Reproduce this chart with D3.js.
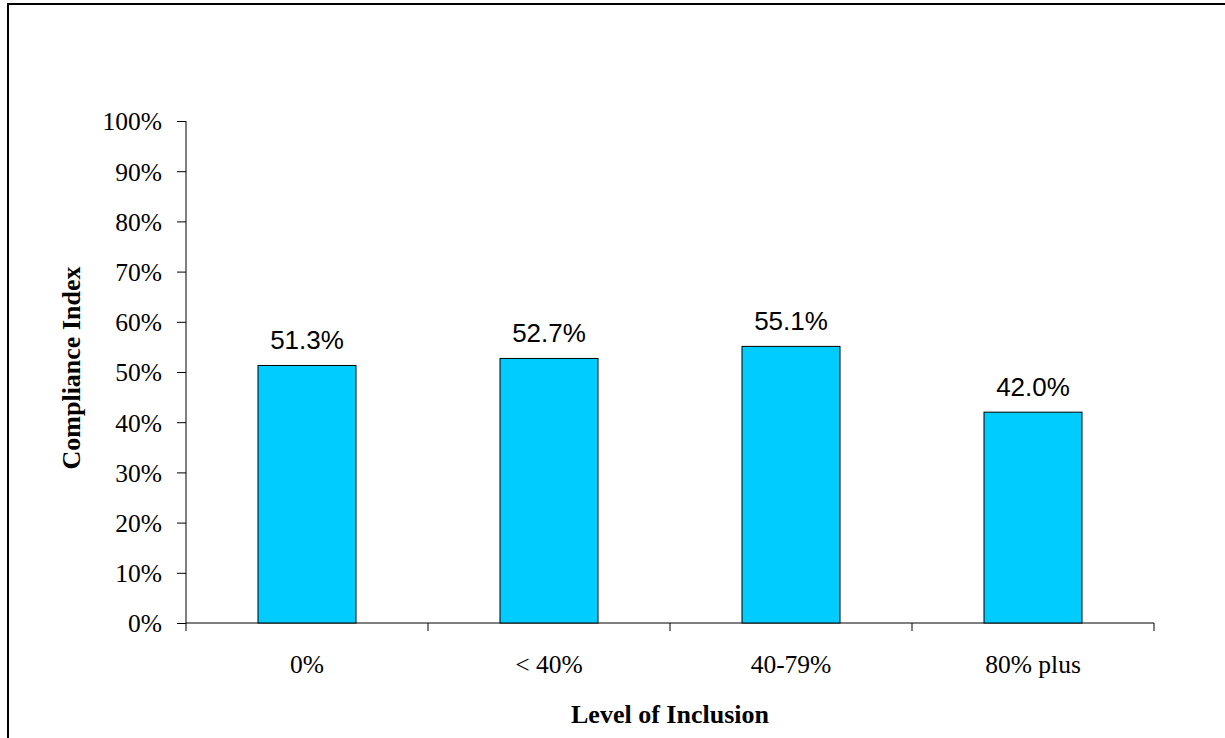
<!DOCTYPE html>
<html><head><meta charset="utf-8">
<script src="https://cdn.jsdelivr.net/npm/d3@7"></script>
<style>body{margin:0;background:#fff;}svg{display:block;}</style>
</head><body>
<script>
const categories = ["0%", "< 40%", "40-79%", "80% plus"];
const values = [51.3, 52.7, 55.1, 42.0];
const yTicks = [0,10,20,30,40,50,60,70,80,90,100];
const xTitle = "Level of Inclusion";
const yTitle = "Compliance Index";

(function(){
const W = 1225, H = 738;
const svg = d3.select("body").append("svg").attr("width", W).attr("height", H);
svg.append("rect").attr("width", W).attr("height", H).attr("fill", "#fff");
svg.append("rect").attr("x", 8).attr("y", 4).attr("width", W + 10).attr("height", H + 10)
  .attr("fill", "none").attr("stroke", "#000").attr("stroke-width", 2);

const pL = 186, pR = 1154, pT = 121, pB = 623;
const xb = d3.scaleBand().domain(categories).range([pL, pR]);
const y = d3.scaleLinear().domain([0, 100]).range([pB, pT]);
const serif = "Liberation Serif, Times New Roman, serif";

// y axis
const yAxis = d3.axisLeft(y).tickValues(yTicks).tickFormat(d => d + "%").tickSize(9).tickPadding(15);
const gy = svg.append("g").attr("transform", `translate(${pL},0)`).call(yAxis);
gy.attr("font-size", null).attr("font-family", null);
gy.select(".domain").attr("stroke", "#000").attr("d", `M0,${pT}V${pB}`);
gy.selectAll(".tick line").attr("stroke", "#000");
gy.selectAll("text").attr("font-family", serif).attr("font-size", 25.5).attr("fill", "#000").attr("dy", "0.35em");

// x axis
const gx = svg.append("g").attr("transform", `translate(0,${pB})`);
gx.append("line").attr("x1", pL).attr("x2", pR).attr("y1", 0).attr("y2", 0).attr("stroke", "#000");
const bounds = categories.map(c => xb(c)).concat([pR]);
gx.selectAll(".xt").data(bounds).enter().append("line")
  .attr("x1", d => d).attr("x2", d => d).attr("y1", 0).attr("y2", 8).attr("stroke", "#000");
gx.selectAll(".xl").data(categories).enter().append("text")
  .attr("x", d => xb(d) + xb.bandwidth() / 2).attr("y", 50)
  .attr("text-anchor", "middle")
  .attr("font-family", serif).attr("font-size", 25.5)
  .text(d => d);

// bars
const bw = 98;
svg.selectAll(".bar").data(values).enter().append("rect")
  .attr("x", (d, i) => xb(categories[i]) + xb.bandwidth() / 2 - bw / 2)
  .attr("y", d => y(d)).attr("width", bw).attr("height", d => pB - y(d))
  .attr("fill", "#00CCFF").attr("stroke", "#000").attr("stroke-width", 1);

svg.selectAll(".lab").data(values).enter().append("text")
  .attr("x", (d, i) => xb(categories[i]) + xb.bandwidth() / 2)
  .attr("y", d => y(d) - 16)
  .attr("text-anchor", "middle")
  .attr("font-family", "Liberation Sans, Arial, sans-serif").attr("font-size", 26)
  .text(d => d.toFixed(1) + "%");

// titles
svg.append("text").attr("x", (pL + pR) / 2).attr("y", 723).attr("text-anchor", "middle")
  .attr("font-family", serif).attr("font-size", 26).attr("font-weight", "bold")
  .text(xTitle);
svg.append("text").attr("transform", `translate(80,368) rotate(-90)`).attr("text-anchor", "middle")
  .attr("font-family", serif).attr("font-size", 26).attr("font-weight", "bold")
  .text(yTitle);
})();
</script>
</body></html>
